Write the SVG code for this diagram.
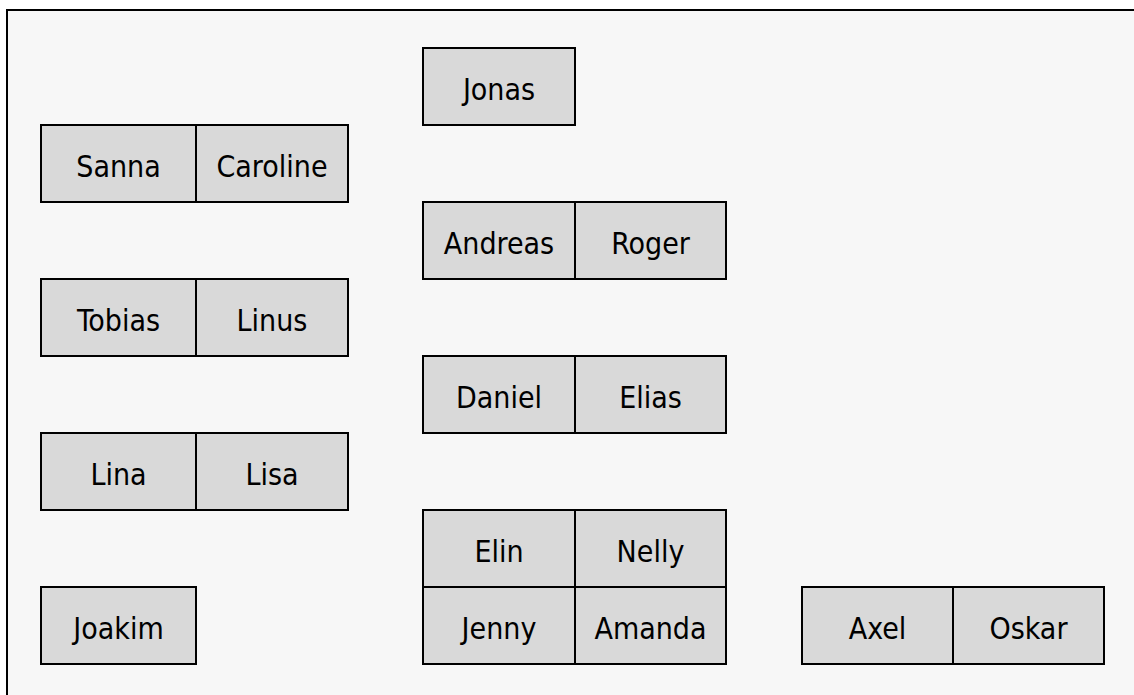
<svg xmlns="http://www.w3.org/2000/svg" width="1134" height="695" viewBox="0 0 1134 695">
<style>
.c{fill:#d9d9d9;stroke:#000;stroke-width:2}
.t{font-family:"DejaVu Sans Condensed","DejaVu Sans",sans-serif;font-stretch:condensed;font-size:30px;fill:#000;text-anchor:middle}
</style>
<rect x="0" y="0" width="1134" height="695" fill="#ffffff"/>
<rect x="7" y="10" width="1140" height="700" fill="#f7f7f7" stroke="#000" stroke-width="2"/>
<g id="connectors"></g>
<g id="jonas"><rect class="c" x="423" y="48" width="152" height="77"/><text class="t" x="499" y="100">Jonas</text></g>
<g id="sanna"><rect class="c" x="41" y="125" width="155" height="77"/><text class="t" x="118.5" y="177">Sanna</text></g>
<g id="caroline"><rect class="c" x="196" y="125" width="152" height="77"/><text class="t" x="272" y="177">Caroline</text></g>
<g id="andreas"><rect class="c" x="423" y="202" width="152" height="77"/><text class="t" x="499" y="254">Andreas</text></g>
<g id="roger"><rect class="c" x="575" y="202" width="151" height="77"/><text class="t" x="650.5" y="254">Roger</text></g>
<g id="tobias"><rect class="c" x="41" y="279" width="155" height="77"/><text class="t" x="118.5" y="331">Tobias</text></g>
<g id="linus"><rect class="c" x="196" y="279" width="152" height="77"/><text class="t" x="272" y="331">Linus</text></g>
<g id="daniel"><rect class="c" x="423" y="356" width="152" height="77"/><text class="t" x="499" y="408">Daniel</text></g>
<g id="elias"><rect class="c" x="575" y="356" width="151" height="77"/><text class="t" x="650.5" y="408">Elias</text></g>
<g id="lina"><rect class="c" x="41" y="433" width="155" height="77"/><text class="t" x="118.5" y="485">Lina</text></g>
<g id="lisa"><rect class="c" x="196" y="433" width="152" height="77"/><text class="t" x="272" y="485">Lisa</text></g>
<g id="elin"><rect class="c" x="423" y="510" width="152" height="77"/><text class="t" x="499" y="562">Elin</text></g>
<g id="nelly"><rect class="c" x="575" y="510" width="151" height="77"/><text class="t" x="650.5" y="562">Nelly</text></g>
<g id="joakim"><rect class="c" x="41" y="587" width="155" height="77"/><text class="t" x="118.5" y="639">Joakim</text></g>
<g id="jenny"><rect class="c" x="423" y="587" width="152" height="77"/><text class="t" x="499" y="639">Jenny</text></g>
<g id="amanda"><rect class="c" x="575" y="587" width="151" height="77"/><text class="t" x="650.5" y="639">Amanda</text></g>
<g id="axel"><rect class="c" x="802" y="587" width="151" height="77"/><text class="t" x="877.5" y="639">Axel</text></g>
<g id="oskar"><rect class="c" x="953" y="587" width="151" height="77"/><text class="t" x="1028.5" y="639">Oskar</text></g>
</svg>
